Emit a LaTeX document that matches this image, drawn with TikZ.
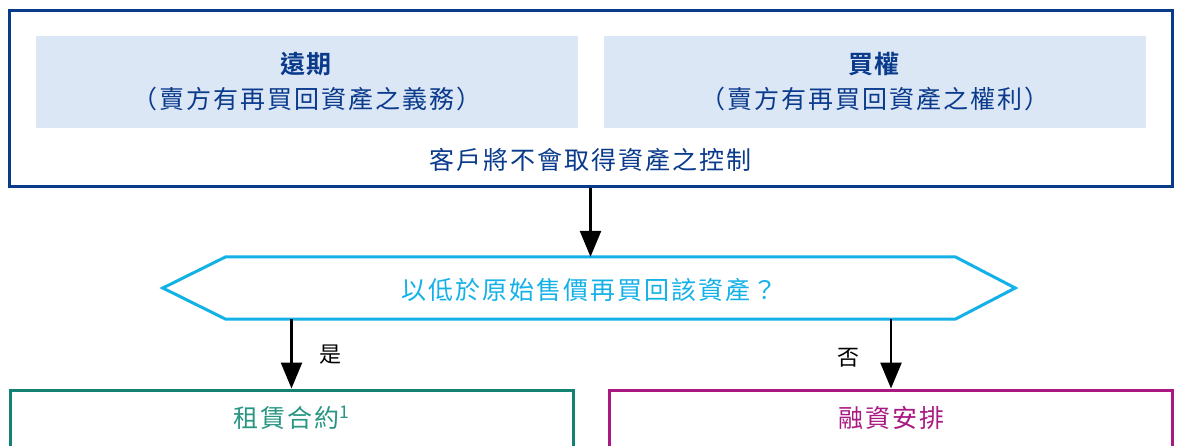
\documentclass[tikz,border=0pt]{standalone}
\usepackage{fontspec}
\setmainfont{Noto Sans CJK TC}[BoldFont={Noto Sans CJK TC Bold},LetterSpace=8]
\usetikzlibrary{arrows.meta,positioning}
\definecolor{navy}{RGB}{10,58,140}
\definecolor{lightblue}{RGB}{220,231,246}
\definecolor{cyanq}{RGB}{20,176,232}
\definecolor{tealb}{RGB}{20,130,115}
\definecolor{tealt}{RGB}{40,150,130}
\definecolor{magb}{RGB}{170,25,130}
\tikzset{
  outerbox/.style={draw=navy,line width=3pt,minimum width=1163pt,minimum height=176pt,inner sep=0pt},
  innerbox/.style={fill=lightblue,minimum width=542pt,minimum height=92pt,inner sep=0pt,align=center,text=navy,font=\fontsize{25}{35}\selectfont},
  plaintext/.style={inner sep=0pt,font=\fontsize{25}{29}\selectfont},
  qbox/.style={minimum width=729pt,minimum height=62pt,inner sep=0pt},
  outbox/.style={line width=3pt,minimum width=563pt,minimum height=100pt,inner sep=0pt},
  arr/.style={line width=2.6pt,-{Triangle[length=26pt,width=21pt]}},
}
\begin{document}
\begin{tikzpicture}[x=1pt,y=-1pt]
\useasboundingbox (0,0) rectangle (1177,445);
\clip (0,0) rectangle (1177,445);
% top box
\node[outerbox] (top) at (590.5,98) {};
\node[innerbox] (fwd) at (307,82) {\textbf{遠期}\\（賣方有再買回資產之義務）};
\node[innerbox] (call) at (875,82) {\textbf{買權}\\（賣方有再買回資產之權利）};
\node[plaintext,text=navy] (ctrl) at (590.5,160) {客戶將不會取得資產之控制};
% question
\node[qbox] (q) at (590.5,288) {};
\draw[cyanq,line width=3pt,line join=miter]
  (q.north west) -- (q.north east) -- ([xshift=60pt]q.east) -- (q.south east)
  -- (q.south west) -- ([xshift=-63pt]q.west) -- cycle;
\node[plaintext,text=cyanq] (qt) at (589,290) {以低於原始售價再買回該資產？};
% outcome boxes
\node[outbox,draw=tealb] (L) at (291.5,440) {};
\node[outbox,draw=magb] (R) at (891,440) {};
\node[plaintext,text=tealt] (Lt) at (291.5,418) {租賃合約\textsuperscript{1}};
\node[plaintext,text=magb] (Rt) at (891,418) {融資安排};
% arrows
\draw[arr] (top.south) -- (q.north);
\draw[arr] (q.south -| L.north) -- (L.north);
\draw[arr] (q.south -| R.north) -- (R.north);
\node[plaintext,font=\fontsize{22}{26}\selectfont] (yes) at (330,355) {是};
\node[plaintext,font=\fontsize{22}{26}\selectfont] (no) at (848,358) {否};
\end{tikzpicture}
\end{document}
